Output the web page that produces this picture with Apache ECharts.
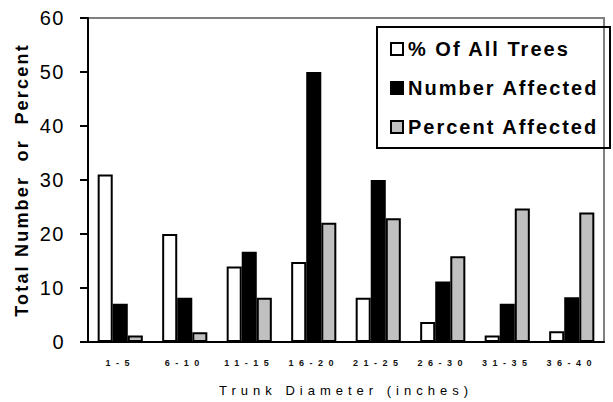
<!DOCTYPE html>
<html>
<head>
<meta charset="utf-8">
<script src="https://cdn.jsdelivr.net/npm/echarts@6/dist/echarts.min.js"></script>
<style>
  html, body { margin: 0; padding: 0; background: #fff; }
  #chart { width: 613px; height: 402px; }
  #chart svg text { white-space: pre; }
</style>
</head>
<body>
<div id="chart"></div>
<script>
// Trunk diameter classes (inches)
const categories = ['1-5', '6-10', '11-15', '16-20', '21-25', '26-30', '31-35', '36-40'];

// Series values per diameter class
const pctOfAllTrees   = [31, 20, 14, 14.8, 8.2, 3.7, 1.2, 2];
const numberAffected  = [7.1, 8.2, 16.7, 50, 30, 11.2, 7.1, 8.3];
const percentAffected = [1.2, 1.8, 8.2, 22.1, 22.9, 15.9, 24.7, 24];

const seriesNames = ['% Of All Trees', 'Number Affected', 'Percent Affected'];
const yTickLabels = ['0', '10', '20', '30', '40', '50', '60'];
const xTitle = 'Trunk Diameter (inches)';
const yTitle = 'Total Number  or  Percent';

const FONT = '"Liberation Sans", Arial, Helvetica, sans-serif';

const chart = echarts.init(document.getElementById('chart'), null, { renderer: 'svg' });

function barSeries(name, data, color) {
  return {
    name: name,
    type: 'bar',
    data: data,
    barGap: '0%',
    barCategoryGap: '30%',
    itemStyle: { color: color, borderColor: '#000', borderWidth: 2 },
    emphasis: { disabled: true }
  };
}

chart.setOption({
  animation: false,
  backgroundColor: '#fff',
  grid: {
    left: 88, top: 18, right: 9, bottom: 58,
    show: true, borderColor: '#808080', borderWidth: 2, backgroundColor: 'transparent'
  },
  legend: {
    orient: 'vertical',
    left: 385, top: 34,
    itemWidth: 12, itemHeight: 12,
    itemGap: 19,
    icon: 'rect',
    selectedMode: false,
    textStyle: { fontFamily: FONT, fontSize: 20, fontWeight: 'bold', color: '#000' },
    data: seriesNames
  },
  graphic: [{
    type: 'rect',
    shape: { x: 377, y: 27, width: 233, height: 121 },
    style: { fill: 'none', stroke: '#000', lineWidth: 2 },
    z: 10
  }],
  xAxis: {
    type: 'category',
    data: categories,
    name: xTitle,
    nameLocation: 'middle',
    nameGap: 42,
    nameTextStyle: { fontFamily: FONT, fontSize: 13, color: '#000' },
    axisLine: { lineStyle: { color: '#000', width: 2 } },
    axisTick: { show: false },
    axisLabel: { fontFamily: FONT, fontSize: 9, fontWeight: 'bold', color: '#111', margin: 16, interval: 0 }
  },
  yAxis: {
    type: 'value',
    min: 0, max: 60, interval: 10,
    name: yTitle,
    nameLocation: 'middle',
    nameGap: 57,
    nameTextStyle: { fontFamily: FONT, fontSize: 18, fontWeight: 'bold', color: '#000' },
    axisLine: { show: true, lineStyle: { color: '#000', width: 2 } },
    axisTick: { show: true, length: 8, lineStyle: { color: '#000', width: 2 } },
    splitLine: { show: false },
    axisLabel: {
      fontFamily: FONT, fontSize: 20, color: '#000', margin: 23,
      formatter: function (v) { return yTickLabels[Math.round(v / 10)]; }
    }
  },
  series: [
    barSeries(seriesNames[0], pctOfAllTrees, '#ffffff'),
    barSeries(seriesNames[1], numberAffected, '#000000'),
    barSeries(seriesNames[2], percentAffected, '#c0c0c0')
  ]
});

// Character spacing for the wide-tracked labels of this figure
function applySpacing() {
  const texts = document.querySelectorAll('#chart svg text');
  texts.forEach(function (t) {
    const s = t.textContent;
    let ls = null;
    if (yTickLabels.indexOf(s) >= 0) ls = '1.5px';
    else if (categories.indexOf(s) >= 0) ls = '5.5px';
    else if (s === xTitle) ls = '5px';
    else if (s === yTitle) ls = '2.2px';
    else if (seriesNames.indexOf(s) >= 0) ls = '2px';
    if (ls) t.style.letterSpacing = ls;
  });
}
applySpacing();
chart.on('finished', applySpacing);
requestAnimationFrame(applySpacing);
</script>
</body>
</html>
